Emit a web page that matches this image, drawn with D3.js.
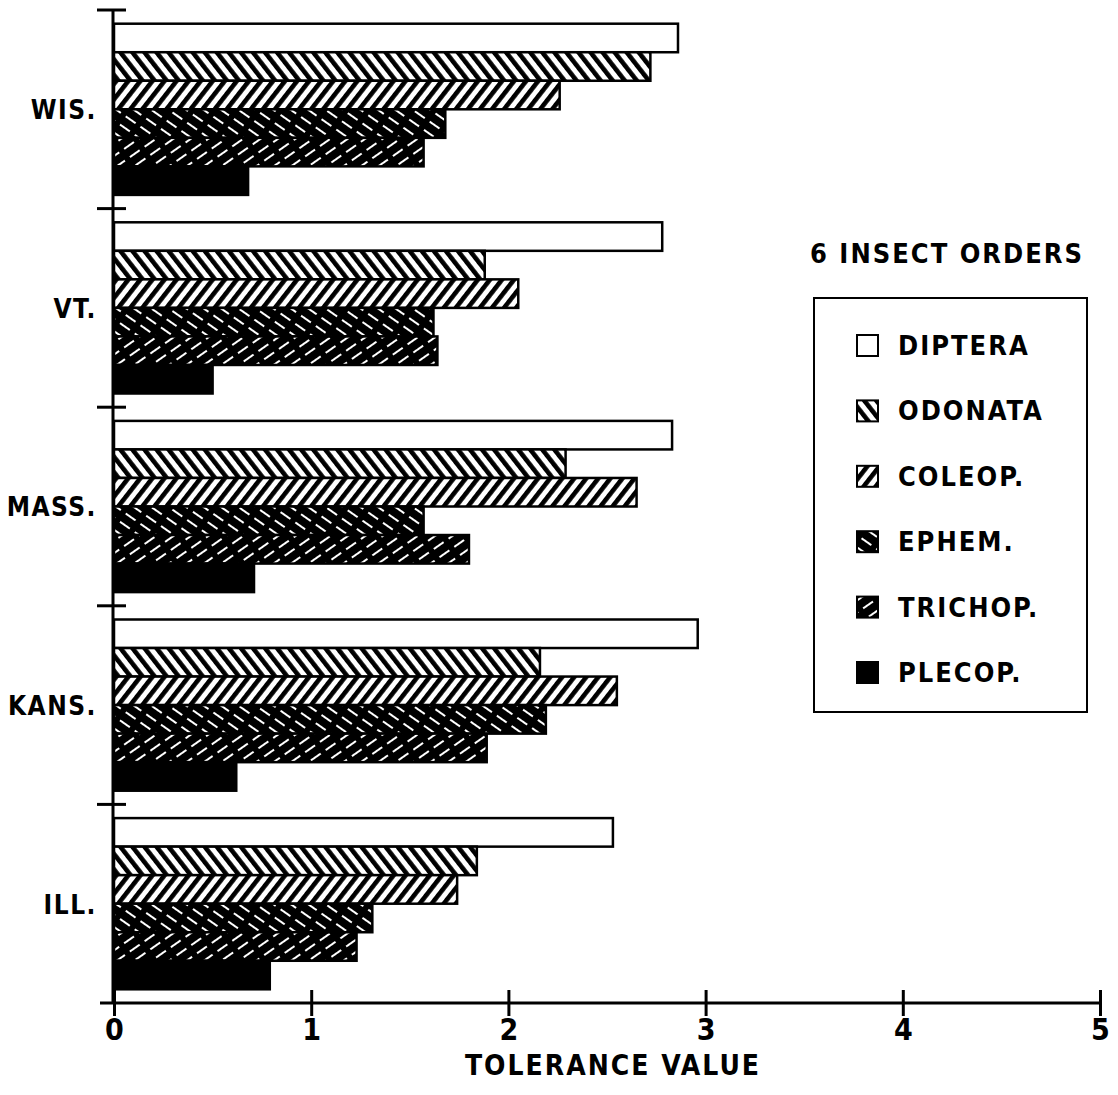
<!DOCTYPE html>
<html>
<head>
<meta charset="utf-8">
<script src="https://cdn.jsdelivr.net/npm/d3@7"></script>
<style>
  body { margin: 0; background: #fff; }
  text { font-family: "DejaVu Sans Condensed", "DejaVu Sans", sans-serif; font-weight: bold; fill: #000; }
</style>
</head>
<body>
<div id="chart"></div>
<script>
// Data
const states = ["WIS.", "VT.", "MASS.", "KANS.", "ILL."];
const orders = ["DIPTERA", "ODONATA", "COLEOP.", "EPHEM.", "TRICHOP.", "PLECOP."];
const diptera = [2.86, 2.78, 2.83, 2.96, 2.53];
const odonata = [2.72, 1.88, 2.29, 2.16, 1.84];
const coleop  = [2.26, 2.05, 2.65, 2.55, 1.74];
const ephem   = [1.68, 1.62, 1.57, 2.19, 1.31];
const trichop = [1.57, 1.64, 1.80, 1.89, 1.23];
const plecop  = [0.68, 0.50, 0.71, 0.62, 0.79];
const xTicks = [0, 1, 2, 3, 4, 5];

const seriesValues = [diptera, odonata, coleop, ephem, trichop, plecop];
const rows = states.map((s, i) => ({
  state: s,
  bars: orders.map((o, j) => ({ order: o, idx: j, value: seriesValues[j][i] }))
}));

const width = 1118, height = 1095;
const svg = d3.select("#chart").append("svg")
  .attr("width", width)
  .attr("height", height);

// Step 1 — patterns for the hatched fills
const defs = svg.append("defs");
function hatch(id, angle) {
  // thick black stripes on white
  const p = defs.append("pattern")
    .attr("id", id)
    .attr("patternUnits", "userSpaceOnUse")
    .attr("width", 9.5).attr("height", 9.5)
    .attr("patternTransform", `rotate(${angle})`);
  p.append("rect").attr("width", 9.5).attr("height", 9.5).attr("fill", "#fff");
  p.append("rect").attr("width", 4.6).attr("height", 9.5).attr("fill", "#000");
}
function darkHatch(id, angle) {
  // black with thin white dashes
  const p = defs.append("pattern")
    .attr("id", id)
    .attr("patternUnits", "userSpaceOnUse")
    .attr("width", 10).attr("height", 18)
    .attr("patternTransform", `rotate(${angle})`);
  p.append("rect").attr("width", 10).attr("height", 18).attr("fill", "#000");
  p.append("line")
    .attr("x1", 5).attr("x2", 5).attr("y1", 2).attr("y2", 14)
    .attr("stroke", "#fff").attr("stroke-width", 2);
}
hatch("odo", -38);
hatch("col", 38);
darkHatch("eph", -55);
darkHatch("tri", 55);
const fills = ["#fff", "url(#odo)", "url(#col)", "url(#eph)", "url(#tri)", "#000"];

// Step 2 — scales
const x = d3.scaleLinear().domain([0, 5]).range([114, 1100]);
const y = d3.scaleBand().domain(states).range([10, 1003]);
const yInner = d3.scaleBand().domain(d3.range(orders.length))
  .range([0, y.bandwidth()]).paddingInner(0).paddingOuter(0.48);

// Step 3 — bars
const groups = svg.selectAll(".group")
  .data(rows)
  .join("g")
    .attr("class", "group")
    .attr("transform", d => `translate(0, ${y(d.state)})`);

groups.selectAll("rect")
  .data(d => d.bars)
  .join("rect")
    .attr("x", x(0))
    .attr("y", d => yInner(d.idx))
    .attr("width", d => x(d.value) - x(0))
    .attr("height", yInner.bandwidth())
    .attr("fill", d => fills[d.idx])
    .attr("stroke", "#000")
    .attr("stroke-width", 2.5);

groups.append("text")
  .attr("x", 97)
  .attr("y", y.bandwidth() / 2 + 10)
  .attr("text-anchor", "end")
  .style("font-size", "26px")
  .style("letter-spacing", "1.5px")
  .text(d => d.state);

// Step 4 — y axis with crossing ticks at group boundaries
svg.append("line")
  .attr("x1", x(0) - 1).attr("x2", x(0) - 1)
  .attr("y1", y.range()[0]).attr("y2", y.range()[1])
  .attr("stroke", "#000").attr("stroke-width", 3);

const boundaries = states.map(s => y(s));
svg.selectAll(".ytick")
  .data(boundaries)
  .join("line")
    .attr("class", "ytick")
    .attr("x1", x(0) - 17).attr("x2", x(0) + 12)
    .attr("y1", d => d).attr("y2", d => d)
    .attr("stroke", "#000").attr("stroke-width", 3);

// Step 5 — x axis
const xAxis = svg.append("g")
  .attr("transform", `translate(0, ${y.range()[1]})`)
  .call(d3.axisBottom(x).tickValues(xTicks).tickFormat(d3.format("d")).tickSize(0).tickPadding(14));
xAxis.select(".domain")
  .attr("d", `M${x(0) - 14},0H${x(5)}`)
  .attr("stroke", "#000").attr("stroke-width", 3);
xAxis.selectAll(".tick line")
  .attr("y1", -13).attr("y2", 13)
  .attr("stroke", "#000").attr("stroke-width", 3);
xAxis.selectAll(".tick text")
  .attr("fill", "#000")
  .attr("dy", null)
  .attr("y", 37)
  .style("font-size", "30px")
  .style("font-weight", "bold")
  .style("font-family", "\"DejaVu Sans Condensed\", \"DejaVu Sans\", sans-serif");

svg.append("text")
  .attr("x", 613).attr("y", 1075)
  .attr("text-anchor", "middle")
  .style("font-size", "28px")
  .style("letter-spacing", "2px")
  .text("TOLERANCE VALUE");

// Step 6 — legend
svg.append("text")
  .attr("x", 947).attr("y", 263)
  .attr("text-anchor", "middle")
  .style("font-size", "27px")
  .style("letter-spacing", "2px")
  .text("6 INSECT ORDERS");

svg.append("rect")
  .attr("x", 814).attr("y", 298)
  .attr("width", 273).attr("height", 414)
  .attr("fill", "none").attr("stroke", "#000").attr("stroke-width", 2);

const legendY = d3.scalePoint().domain(orders).range([345, 672]);
const items = svg.selectAll(".legend-item")
  .data(orders)
  .join("g")
    .attr("class", "legend-item")
    .attr("transform", d => `translate(857, ${legendY(d)})`);

items.append("rect")
  .attr("x", 0).attr("y", -10)
  .attr("width", 21).attr("height", 21)
  .attr("fill", (d, i) => fills[i])
  .attr("stroke", "#000").attr("stroke-width", 2);

items.append("text")
  .attr("x", 41).attr("y", 10)
  .style("font-size", "27px")
  .style("letter-spacing", "2px")
  .text(d => d);
</script>
</body>
</html>
